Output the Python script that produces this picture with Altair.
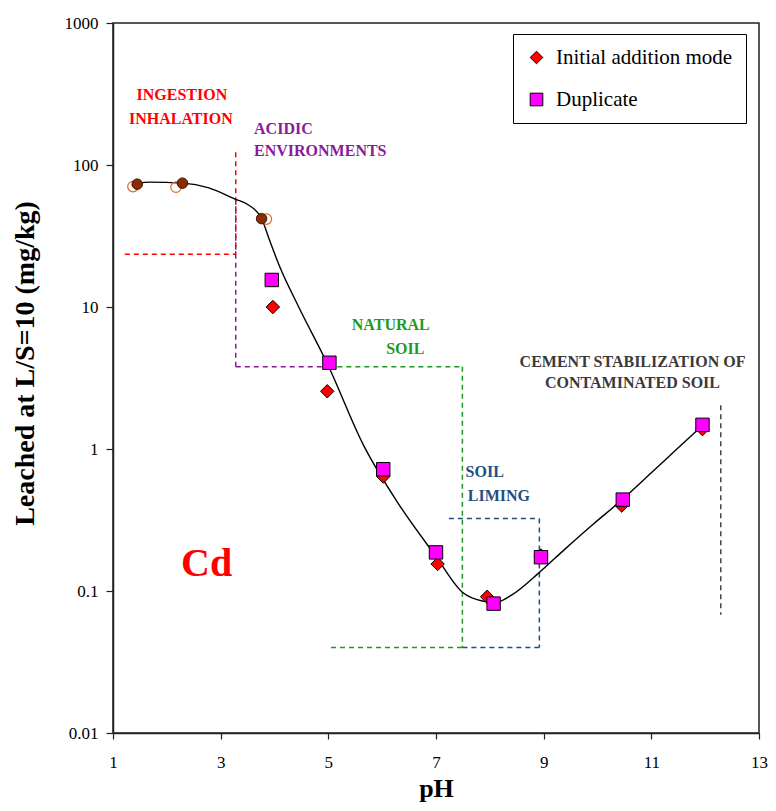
import altair as alt
import pandas as pd

# ---------------- data ----------------
series_names = ["Initial addition mode", "Duplicate"]

ph_init = [3.97, 4.98, 6.02, 7.03, 7.95, 8.95, 10.45, 11.95]
cd_init = [10.0, 2.55, 0.64, 0.155, 0.091, 0.178, 0.40, 1.38]

ph_dup = [3.95, 5.02, 6.02, 7.00, 8.07, 8.95, 10.47, 11.95]
cd_dup = [15.5, 4.05, 0.72, 0.187, 0.0815, 0.173, 0.44, 1.48]

ph_brown = [1.45, 2.29, 3.76]
cd_brown = [73.3, 74.5, 41.9]
ph_orange = [1.37, 2.17, 3.85]
cd_orange = [70.5, 69.8, 41.6]

curve_ph = [1.45, 1.68, 2.29, 2.78, 3.27, 3.51, 3.76, 3.91, 4.09, 4.45, 4.98,
            5.65, 6.27, 7.00, 7.49, 7.86, 8.10, 8.41, 8.89, 9.40, 9.94, 10.43,
            11.00, 11.50, 11.98]
curve_cd = [74, 75.7, 74.5, 69, 57.5, 52.5, 42, 29.4, 19.5, 10.0, 4.0,
            1.07, 0.43, 0.175, 0.098, 0.085, 0.083, 0.094, 0.132, 0.198, 0.30, 0.43,
            0.68, 1.02, 1.5]

# dashed guide segments (start pH, start value, end pH, end value, colour)
seg_ph1 = [1.22, 3.28, 3.28, 3.28, 5.00, 7.49, 5.05, 7.24, 8.92, 7.49, 12.29]
seg_cd1 = [23.5, 123, 57, 3.8, 3.8, 3.8, 0.04, 0.324, 0.324, 0.04, 2.03]
seg_ph2 = [3.28, 3.28, 3.28, 5.00, 7.49, 7.49, 7.49, 8.92, 8.92, 8.92, 12.29]
seg_cd2 = [23.5, 23.5, 3.8, 3.8, 3.8, 0.04, 0.04, 0.324, 0.04, 0.04, 0.068]
seg_col = ["#FF0000", "#FF0000", "#8B1A9B", "#8B1A9B", "#1E9A1E", "#1E9A1E",
           "#1E9A1E", "#1F4E85", "#1F4E85", "#1F4E85", "#444444"]

# region labels
lab_c_text = ["INGESTION", "INHALATION", "NATURAL", "SOIL",
              "CEMENT STABILIZATION OF", "CONTAMINATED SOIL"]
lab_c_ph = [2.28, 2.26, 6.16, 6.43, 10.65, 10.65]
lab_c_cd = [309, 210, 7.48, 5.08, 4.12, 2.90]
lab_c_col = ["#FF0000", "#FF0000", "#1E9A1E", "#1E9A1E", "#3A3A3A", "#3A3A3A"]

lab_l_text = ["ACIDIC", "ENVIRONMENTS", "SOIL", "LIMING"]
lab_l_ph = [3.62, 3.62, 7.55, 7.59]
lab_l_cd = [178.7, 125, 0.69, 0.469]
lab_l_col = ["#8B1A9B", "#8B1A9B", "#1F4E85", "#1F4E85"]

metal_text = ["Cd"]
metal_ph = [2.74]
metal_cd = [0.155]

x_ticks = [1, 3, 5, 7, 9, 11, 13]
y_ticks = [0.01, 0.1, 1, 10, 100, 1000]

# ---------------- tables ----------------
pts = pd.DataFrame({
    "ph": ph_init + ph_dup,
    "cd": cd_init + cd_dup,
    "series": [series_names[0]] * len(ph_init) + [series_names[1]] * len(ph_dup),
})
brown = pd.DataFrame({"ph": ph_brown, "cd": cd_brown})
orange = pd.DataFrame({"ph": ph_orange, "cd": cd_orange})
curve = pd.DataFrame({"ph": curve_ph, "cd": curve_cd})
segs = pd.DataFrame({"ph": seg_ph1, "cd": seg_cd1, "ph2": seg_ph2, "cd2": seg_cd2, "col": seg_col})
lab_c = pd.DataFrame({"ph": lab_c_ph, "cd": lab_c_cd, "text": lab_c_text, "col": lab_c_col})
lab_l = pd.DataFrame({"ph": lab_l_ph, "cd": lab_l_cd, "text": lab_l_text, "col": lab_l_col})
metal = pd.DataFrame({"ph": metal_ph, "cd": metal_cd, "text": metal_text})

SERIF = "Liberation Serif, Times New Roman, serif"

xenc = alt.X(
    "ph:Q",
    scale=alt.Scale(domain=[1, 13], nice=False, zero=False),
    axis=alt.Axis(
        title="pH", values=x_ticks, format="d", grid=False, labelFlush=False,
        tickSize=6, labelPadding=15, labelFontSize=17, labelFont=SERIF,
        titleFont=SERIF, titleFontSize=26, titleFontWeight="bold",
        titleY=63, titleBaseline="alphabetic",
    ),
)
yenc = alt.Y(
    "cd:Q",
    scale=alt.Scale(type="log", domain=[0.01, 1000], nice=False),
    axis=alt.Axis(
        title="Leached at L/S=10 (mg/kg)", values=y_ticks, format="~g", grid=False,
        labelFlush=False,
        tickSize=7, labelPadding=8, labelFontSize=17, labelFont=SERIF,
        titleFont=SERIF, titleFontSize=28, titleFontWeight="bold",
        titleX=-80, titleY=340, titleAngle=270, titleBaseline="alphabetic",
        titleAlign="center",
    ),
)

rules = alt.Chart(segs).mark_rule(strokeDash=[5, 4], strokeWidth=1.5).encode(
    x=xenc, y=yenc, x2="ph2:Q", y2="cd2:Q",
    color=alt.Color("col:N", scale=None),
)

line = alt.Chart(curve).mark_line(color="black", strokeWidth=1.4, interpolate="monotone").encode(
    x=xenc, y=yenc
)

orange_pts = alt.Chart(orange).mark_point(
    shape="circle", filled=False, stroke="#E0692A", strokeWidth=1.2, size=110, opacity=1
).encode(x=xenc, y=yenc)

brown_pts = alt.Chart(brown).mark_point(
    shape="circle", filled=True, fill="#8B2B00", stroke="#3A1200", strokeWidth=1, size=110, opacity=1
).encode(x=xenc, y=yenc)

leg = alt.Legend(title=None, labelFont=SERIF, labelFontSize=21)
main_pts = alt.Chart(pts).mark_point(
    filled=True, stroke="black", strokeWidth=1, size=180, opacity=1
).encode(
    x=xenc, y=yenc,
    color=alt.Color("series:N", scale=alt.Scale(domain=series_names, range=["#FF0000", "#FF00FF"]),
                    legend=leg),
    shape=alt.Shape("series:N", scale=alt.Scale(domain=series_names, range=["diamond", "square"]),
                    legend=leg),
)

text_c = alt.Chart(lab_c).mark_text(
    font=SERIF, fontSize=16, fontWeight="bold", align="center", baseline="middle"
).encode(x=xenc, y=yenc, text="text:N", color=alt.Color("col:N", scale=None))

text_l = alt.Chart(lab_l).mark_text(
    font=SERIF, fontSize=16, fontWeight="bold", align="left", baseline="middle"
).encode(x=xenc, y=yenc, text="text:N", color=alt.Color("col:N", scale=None))

text_m = alt.Chart(metal).mark_text(
    font=SERIF, fontSize=40, fontWeight="bold", align="center", baseline="middle", color="#FF0000"
).encode(x=xenc, y=yenc, text="text:N")

chart = alt.layer(rules, line, orange_pts, brown_pts, main_pts, text_c, text_l, text_m).properties(
    width=646, height=710,
    autosize=alt.AutoSizeParams(type="none"),
    padding={"left": 105, "top": 15, "right": 9, "bottom": 70},
).configure_view(
    stroke="#222222", strokeWidth=1.5
).configure_axis(
    domainColor="#222222", domainWidth=1.5, tickColor="#222222", tickWidth=1.2,
    labelColor="black", titleColor="black",
).configure_legend(
    orient="none", legendX=400, legendY=11, padding=13, rowPadding=20,
    strokeColor="black", fillColor="white", labelFont=SERIF, labelFontSize=21,
    labelColor="black", labelOffset=9, symbolSize=160, symbolStrokeColor="black",
    symbolStrokeWidth=1, labelLimit=400,
)

chart.save("out.html", embed_options={"renderer": "svg", "actions": False})
